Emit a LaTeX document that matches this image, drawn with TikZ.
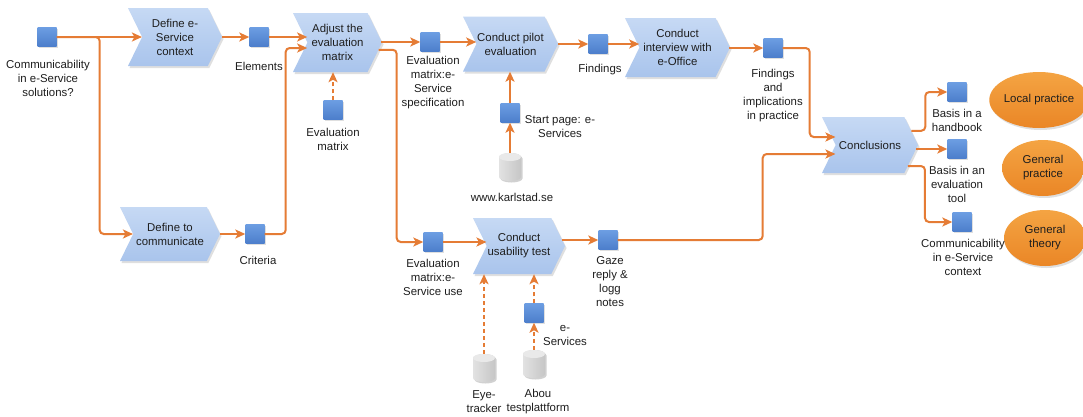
\documentclass[tikz,border=0pt]{standalone}
\usepackage{fontspec}
\setmainfont{Liberation Sans}
\usetikzlibrary{shapes.symbols,shapes.geometric,arrows.meta,shadows,calc}

\definecolor{flowc}{HTML}{E57C35}
\definecolor{txt}{HTML}{1E1E1E}
\definecolor{chevTop}{HTML}{C6D9F4}
\definecolor{chevBot}{HTML}{A9C4EC}
\definecolor{sqTop}{HTML}{6C9DE2}
\definecolor{sqBot}{HTML}{4C7ECB}
\definecolor{cylL}{HTML}{E2E2E2}
\definecolor{cylR}{HTML}{C6C6C6}
\definecolor{cylEnd}{HTML}{E9E9E9}
\definecolor{ovTop}{HTML}{F4A443}
\definecolor{ovBot}{HTML}{EA8626}

\begin{document}
\begin{tikzpicture}[x=1pt,y=-1pt,
  every node/.style={font=\fontsize{11.4}{14}\selectfont, text=txt},
  act/.style={signal, signal to=east, signal from=west, signal pointer angle=128,
    inner sep=0pt, align=center, draw=none, top color=chevTop, bottom color=chevBot,
    drop shadow={shadow xshift=1.5pt, shadow yshift=-2pt, opacity=0.25}},
  item/.style={rectangle, minimum size=19pt, inner sep=0pt, draw=none,
    top color=sqTop, bottom color=sqBot,
    drop shadow={shadow xshift=1pt, shadow yshift=-1pt, opacity=0.25}},
  storebox/.style={rectangle, minimum width=22pt, minimum height=28pt, inner sep=0pt},
  store/.pic={
    \fill[black, opacity=0.18, shift={(1.5,1.5)}]
      (-11,-10) arc[start angle=180, end angle=360, x radius=11, y radius=4]
      -- (11,10) arc[start angle=0, end angle=180, x radius=11, y radius=4] -- cycle;
    \shade[left color=cylL, right color=cylR]
      (-11,-10) arc[start angle=180, end angle=360, x radius=11, y radius=4]
      -- (11,10) arc[start angle=0, end angle=180, x radius=11, y radius=4] -- cycle;
    \fill[cylEnd] (0,-10) ellipse[x radius=11, y radius=4];
  },
  goal/.style={ellipse, minimum width=82pt, minimum height=56pt, inner sep=0pt,
    align=center, draw=none, top color=ovTop, bottom color=ovBot,
    drop shadow={shadow xshift=1.5pt, shadow yshift=-2pt, opacity=0.25}},
  lbl/.style={inner sep=0pt, align=center},
  flow/.style={draw=flowc, line width=2pt, rounded corners=4pt,
    -{Stealth[length=10pt,width=9pt,inset=2.5pt]}},
  dflow/.style={flow, dash pattern=on 4pt off 3pt},
]
\useasboundingbox[fill=white] (0,0) rectangle (1083,416);

% activities
\node[act, minimum width=94pt, minimum height=58pt] (cDef) at (175,37) {Define e-\\Service\\context};
\node[act, minimum width=89pt, minimum height=59pt] (cAdj) at (337.5,42.5) {Adjust the\\evaluation\\matrix};
\node[act, minimum width=95pt, minimum height=55pt] (cPilot) at (510.5,44) {Conduct pilot\\evaluation};
\node[act, minimum width=105pt, minimum height=59pt] (cInt) at (677.5,47.5) {Conduct\\interview with\\e-Office};
\node[act, minimum width=96pt, minimum height=56pt] (cConc) at (870,145) {Conclusions};
\node[act, minimum width=100pt, minimum height=54pt] (cDefCom) at (170,234) {Define to\\communicate};
\node[act, minimum width=92pt, minimum height=56pt] (cUse) at (519,246) {Conduct\\usability test};

% information items
\node[item] (q0) at (47,37) {};
\node[item] (qElem) at (259,37) {};
\node[item] (qCrit) at (255,234) {};
\node[item] (qEvm) at (333,110) {};
\node[item] (qSpec) at (430,42) {};
\node[item] (qStart) at (510,113) {};
\node[item] (qFind) at (598,44) {};
\node[item] (qImpl) at (773,48) {};
\node[item] (qUse) at (433,242) {};
\node[item] (qGaze) at (608,240) {};
\node[item] (qEsv) at (534,313) {};
\node[item] (qHand) at (957,92) {};
\node[item] (qTool) at (957,149) {};
\node[item] (qComm) at (962,222) {};

% data stores
\node[storebox] (cylKarl) at (510,167) {};
\node[storebox] (cylEye) at (484,368) {};
\node[storebox] (cylAbou) at (534,364) {};
\pic at (cylKarl) {store};
\pic at (cylEye) {store};
\pic at (cylAbou) {store};

% outcomes
\node[goal] (eLocal) at (1039,100) {Local practice};
\node[goal] (eGenP) at (1043,168) {General\\practice};
\node[goal] (eGenT) at (1045,238) {General\\theory};

% labels
\node[lbl] (l0) at (48,78.5) {Communicability\\in e-Service\\solutions?};
\node[lbl] (lElem) at (259,66) {Elements};
\node[lbl] (lCrit) at (258,260) {Criteria};
\node[lbl] (lEvm) at (333,139) {Evaluation\\matrix};
\node[lbl] (lSpec) at (433,83) {Evaluation\\matrix:e-\\Service\\specification};
\node[lbl] (lStart) at (560,127) {Start page: e-\\Services};
\node[lbl] (lFind) at (600,70) {Findings};
\node[lbl] (lImpl) at (773,96) {Findings\\and\\implications\\in practice};
\node[lbl] (lUse) at (433,277.5) {Evaluation\\matrix:e-\\Service use};
\node[lbl] (lGaze) at (610,281.5) {Gaze\\reply \&\\logg\\notes};
\node[lbl] (lEsv) at (565,335) {e-\\Services};
\node[lbl] (lKarl) at (512,197) {www.karlstad.se};
\node[lbl] (lEye) at (484,402) {Eye-\\tracker};
\node[lbl] (lAbou) at (538,402) {Abou\\testplattform};
\node[lbl] (lHand) at (957,120) {Basis in a\\handbook};
\node[lbl] (lTool) at (957,184.5) {Basis in an\\evaluation\\tool};
\node[lbl] (lComm) at (963,257) {Communicability\\in e-Service\\context};

% flows
\draw[flow] (q0.east) -- (q0.east -| cDef.west);
\draw[flow] (q0.east) -- ++(43,0) |- (cDefCom.west);
\draw[flow] (cDef.east) -- (qElem.west);
\draw[flow] (qElem.east) -- (qElem.east -| cAdj.west);
\draw[flow] (cDefCom.east) -- (qCrit.west);
\draw[flow] (qCrit.east) -- ++(21,0) |- ([yshift=-5.5pt]cAdj.west);
\draw[flow] ([xshift=-1pt]cAdj.east |- qSpec.west) -- (qSpec.west);
\draw[flow] (cAdj.-10) -- ++(18,0) |- (qUse.west);
\draw[flow] (qSpec.east) -- (qSpec.east -| cPilot.west);
\draw[flow] (cPilot.east) -- (qFind.west);
\draw[flow] (qFind.east) -- (qFind.east -| cInt.west);
\draw[flow] ([xshift=-1pt]cInt.east |- qImpl.west) -- (qImpl.west);
\draw[flow] (qImpl.east) -- ++(27,0) |- ([yshift=8pt]cConc.west);
\draw[flow] (qUse.east) -- (qUse.east -| cUse.west);
\draw[flow] ([xshift=-3.5pt]qGaze.west -| cUse.east) -- (qGaze.west);
\draw[flow] (qGaze.east) -- ++(145,0) |- ([yshift=-9pt]cConc.west);
\draw[flow] (cConc.19) -- ++(14,0) |- (qHand.west);
\draw[flow] ([xshift=-2pt]cConc.east |- qTool.west) -- (qTool.west);
\draw[flow] (cConc.-29) -- ++(17,0) |- (qComm.west);
\draw[flow] (cylKarl) -- (qStart);
\draw[flow] (qStart.north) -- (qStart.north |- cPilot.south);
\draw[dflow] (qEvm.north) -- (qEvm.north |- cAdj.south);
\draw[dflow] (cylEye.north) -- (cylEye.north |- cUse.south);
\draw[dflow] (cylAbou) -- (qEsv);
\draw[dflow] (qEsv.north) -- (qEsv.north |- cUse.south);
\end{tikzpicture}
\end{document}
